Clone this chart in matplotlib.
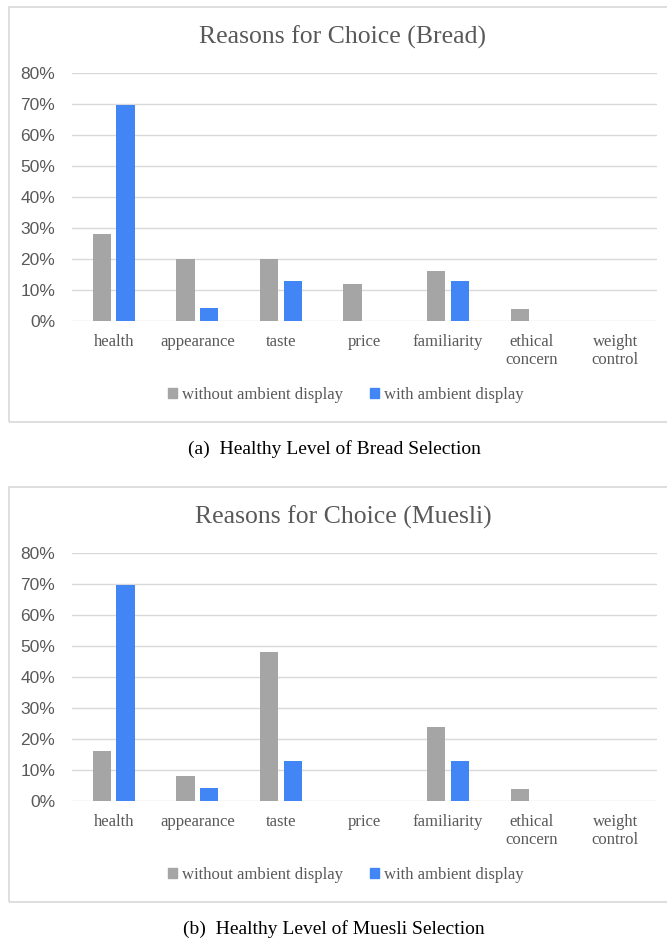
import numpy as np
import matplotlib.pyplot as plt
from matplotlib.patches import Rectangle, Patch

categories = ['health', 'appearance', 'taste', 'price', 'familiarity',
              'ethical\nconcern', 'weight\ncontrol']
series_names = ['without ambient display', 'with ambient display']

bread_without = [28, 20, 20, 12, 16, 4, 0]
bread_with = [69.6, 4.3, 13, 0, 13, 0, 0]
muesli_without = [16, 8, 48, 0, 24, 4, 0]
muesli_with = [69.6, 4.3, 13, 0, 13, 0, 0]

titles = ['Reasons for Choice (Bread)', 'Reasons for Choice (Muesli)']
captions = ['(a)  Healthy Level of Bread Selection',
            '(b)  Healthy Level of Muesli Selection']
yticks = [0, 10, 20, 30, 40, 50, 60, 70, 80]

W, H = 667, 939
GRAY = '#A5A5A5'
BLUE = '#4285F4'
TXT = '#595959'
GRID = '#D9D9D9'
SERIF = ['Liberation Serif', 'DejaVu Serif']
SANS = ['Liberation Sans', 'DejaVu Sans']

fig = plt.figure(figsize=(W/100, H/100), dpi=100)


def px(x, y):
    return x/W, 1 - y/H


def panel(dy, without, with_, title, caption):
    # outer frame (open on the right like the screenshot)
    fig.add_artist(Rectangle(px(9, 422+dy), (W+5-9)/W, (422-7)/H,
                             transform=fig.transFigure, fill=False,
                             edgecolor=GRID, lw=1.2))
    ax = fig.add_axes([72/W, 1-(321+dy)/H, (657-72)/W, (321-73)/H])
    x = np.arange(len(categories))
    ax.bar(x-0.142, without, 0.22, color=GRAY, label=series_names[0], zorder=3)
    ax.bar(x+0.142, with_, 0.22, color=BLUE, label=series_names[1], zorder=3)
    ax.set_xlim(-0.5, len(categories)-0.5)
    ax.set_ylim(0, 80)
    ax.set_yticks(yticks)
    ax.set_yticklabels([f'{v}%' for v in yticks], fontfamily=SANS,
                       fontsize=12.5, color=TXT)
    ax.set_xticks(x)
    ax.set_xticklabels(categories, fontfamily=SERIF, fontsize=12,
                       color=TXT, linespacing=1.2, va='top')
    ax.tick_params(axis='both', length=0)
    ax.tick_params(axis='y', pad=12)
    ax.tick_params(axis='x', pad=9)
    ax.grid(axis='y', color=GRID, lw=1, zorder=0)
    for s in ax.spines.values():
        s.set_visible(False)
    tx, ty = px(343, 37+dy)
    fig.text(tx, ty, title, ha='center', va='center', fontfamily=SERIF,
             fontsize=18.5, color=TXT)
    lx, ly = px(346, 395+dy)
    handles = [Patch(color=GRAY), Patch(color=BLUE)]
    fig.legend(handles, series_names, loc='center', bbox_to_anchor=(lx, ly),
               ncol=2, frameon=False, handlelength=0.55, handleheight=0.55,
               handletextpad=0.3, columnspacing=1.6,
               prop={'family': SERIF, 'size': 12}, labelcolor=TXT)
    cx, cy = px(334, 449+dy)
    fig.text(cx, cy, caption, ha='center', va='center', fontfamily=SERIF,
             fontsize=14, color='black')


panel(0, bread_without, bread_with, titles[0], captions[0])
panel(480, muesli_without, muesli_with, titles[1], captions[1])

fig.savefig('out.png', dpi=100)
